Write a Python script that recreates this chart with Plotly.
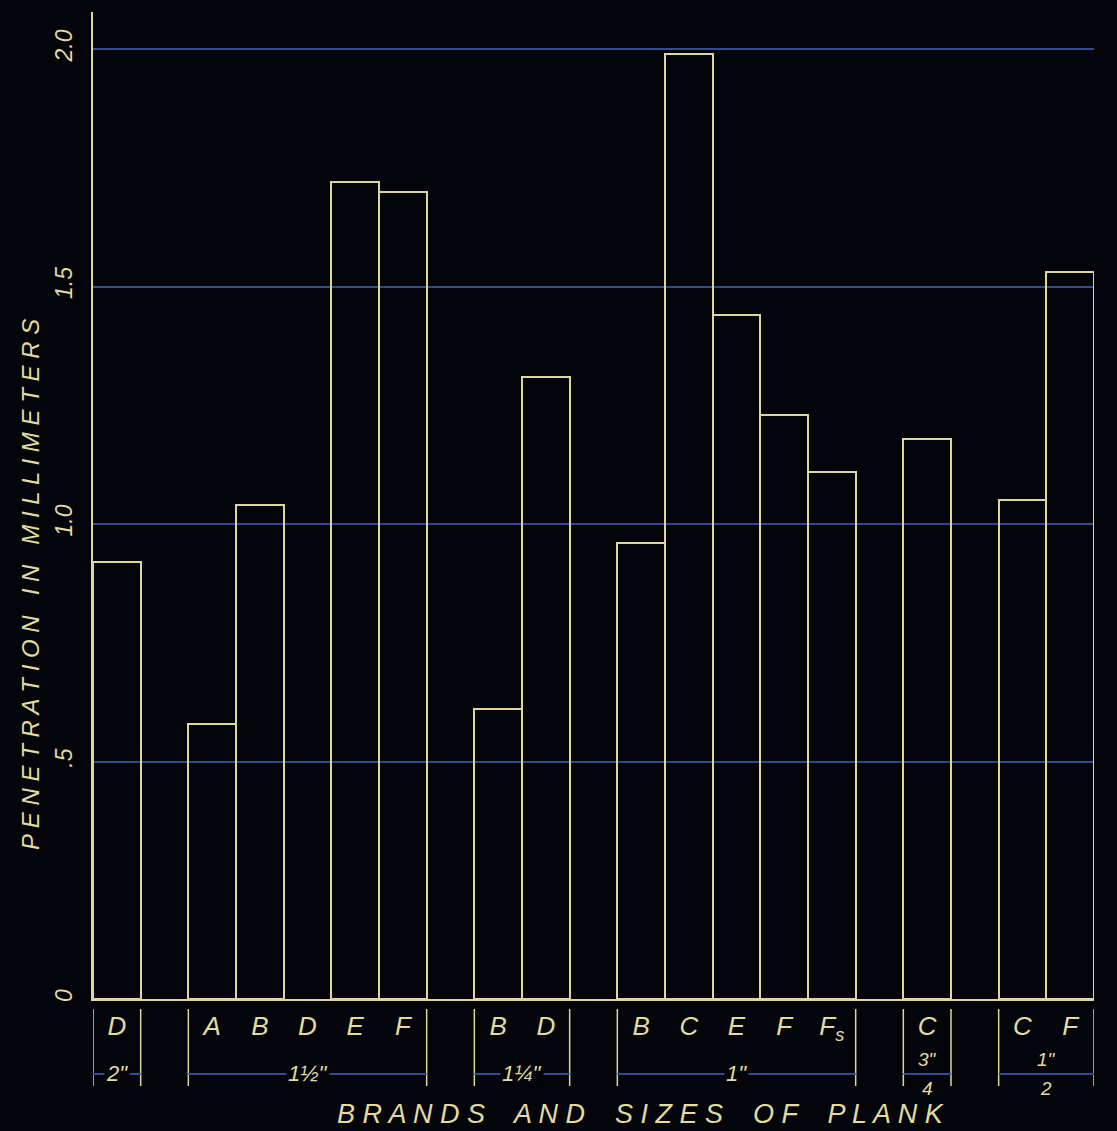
import plotly.graph_objects as go

# ---- data ----
sizes = ['2"', '1½"', '1¼"', '1"', '¾"', '½"']
brands_2 = ["D"]
brands_1half = ["A", "B", "D", "E", "F"]
brands_1quarter = ["B", "D"]
brands_1 = ["B", "C", "E", "F", "F<sub>s</sub>"]
brands_3quarter = ["C"]
brands_half = ["C", "F"]

values_2 = [0.92]
values_1half = [0.58, 1.04, None, 1.72, 1.70]
values_1quarter = [0.61, 1.31]
values_1 = [0.96, 1.99, 1.44, 1.23, 1.11]
values_3quarter = [1.18]
values_half = [1.05, 1.53]

size_label_top = ['2"', '1½"', '1¼"', '1"', '3"', '1"']
size_label_bottom = ['', '', '', '', '4', '2']

y_ticks = [0, 0.5, 1.0, 1.5, 2.0]
y_ticktext = ["0", ".5", "1.0", "1.5", "2.0"]

groups = [
    (brands_2, values_2),
    (brands_1half, values_1half),
    (brands_1quarter, values_1quarter),
    (brands_1, values_1),
    (brands_3quarter, values_3quarter),
    (brands_half, values_half),
]

# ---- build category axis with gaps between groups ----
cats, vals, ticktext = [], [], []
group_spans = []
for gi, (brs, vs) in enumerate(groups):
    if gi > 0:
        cats.append(f"gap{gi}")
        vals.append(None)
        ticktext.append(" ")
    start = len(cats)
    for b, v in zip(brs, vs):
        cats.append(f"{sizes[gi]}|{b}")
        vals.append(v)
        ticktext.append(b)
    group_spans.append((start - 0.5, len(cats) - 0.5))

CREAM = "#dcd79c"
TEXT = "#e2dc9e"
BLUE = "#2e4c8e"
BG = "#03050b"
FONT = "Liberation Sans"

fig = go.Figure()
fig.add_trace(go.Bar(
    x=list(range(len(cats))), y=vals, width=1.0,
    marker=dict(color="rgba(0,0,0,0)", line=dict(color=CREAM, width=2)),
    hoverinfo="skip",
))

shapes = []
annotations = []

def py(p):
    # pixel y -> paper y (plot area from 12 to 999)
    return (999 - p) / 987.0

for gi, (x0, x1) in enumerate(group_spans):
    for xx in (x0, x1):
        shapes.append(dict(type="line", xref="x", yref="paper", x0=xx, x1=xx,
                           y0=py(1009), y1=py(1086), line=dict(color=CREAM, width=1.5)))
    shapes.append(dict(type="line", xref="x", yref="paper", x0=x0, x1=x1,
                       y0=py(1074), y1=py(1074), line=dict(color=BLUE, width=2)))
    xm = (x0 + x1) / 2
    if size_label_bottom[gi]:
        annotations.append(dict(x=xm, y=py(1059), xref="x", yref="paper", text=size_label_top[gi],
                                xanchor="center", yanchor="middle", showarrow=False,
                                font=dict(family=FONT, size=19, color=TEXT, style="italic")))
        annotations.append(dict(x=xm, y=py(1088), xref="x", yref="paper", text=size_label_bottom[gi],
                                xanchor="center", yanchor="middle", showarrow=False,
                                font=dict(family=FONT, size=19, color=TEXT, style="italic")))
    else:
        annotations.append(dict(x=xm, y=py(1073), xref="x", yref="paper", text=size_label_top[gi],
                                xanchor="center", yanchor="middle", showarrow=False,
                                bgcolor=BG, borderpad=1,
                                font=dict(family=FONT, size=22, color=TEXT, style="italic")))

annotations.append(dict(
    x=(640 - 93) / 1001.0, y=py(1114), xref="paper", yref="paper",
    xanchor="center", yanchor="middle",
    text="B R A N D S    A N D    S I Z E S    O F    P L A N K",
    showarrow=False, font=dict(family=FONT, size=27, color=TEXT, style="italic")))

annotations.append(dict(
    x=(30 - 93) / 1001.0, y=py(585), xref="paper", yref="paper", textangle=-90,
    xanchor="center", yanchor="middle",
    text="P E N E T R A T I O N   I N   M I L L I M E T E R S",
    showarrow=False, font=dict(family=FONT, size=24, color=TEXT, style="italic")))

fig.update_layout(
    width=1117, height=1131,
    margin=dict(l=93, r=23, t=12, b=132),
    paper_bgcolor=BG, plot_bgcolor=BG,
    showlegend=False, bargap=0,
    shapes=shapes, annotations=annotations,
    xaxis=dict(
        range=[-0.5, len(cats) - 0.5],
        tickmode="array", tickvals=list(range(len(cats))), ticktext=ticktext,
        showgrid=False, zeroline=False, showline=True, linecolor=CREAM, linewidth=2,
        ticks="", ticklabelstandoff=3, tickangle=0,
        tickfont=dict(family=FONT, size=26, color=TEXT, style="italic"),
    ),
    yaxis=dict(
        range=[0, (999 - 12) / 475.0],
        tickmode="array", tickvals=y_ticks, ticktext=y_ticktext,
        showgrid=True, gridcolor=BLUE, gridwidth=2,
        zeroline=False, showline=True, linecolor=CREAM, linewidth=2,
        ticks="", ticklabelstandoff=10, tickangle=-90,
        tickfont=dict(family=FONT, size=23, color=TEXT, style="italic"),
    ),
)

fig.write_html(
    "out.html",
    config={"displayModeBar": False},
    post_script="document.body.style.margin='0';document.body.style.background='#03050b';",
)
